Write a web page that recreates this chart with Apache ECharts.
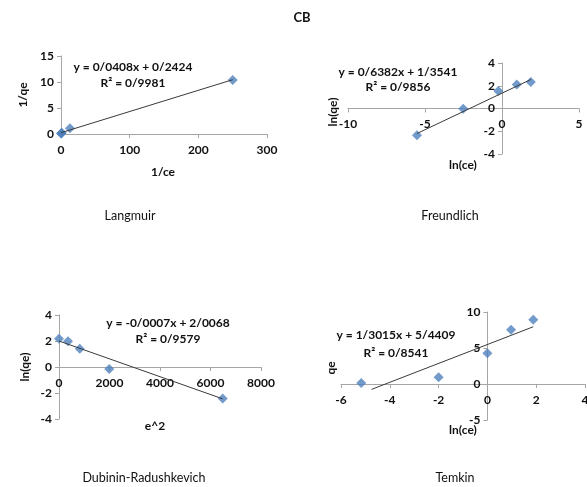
<!DOCTYPE html>
<html>
<head>
<meta charset="utf-8">
<script src="https://cdn.jsdelivr.net/npm/echarts@6/dist/echarts.min.js"></script>
<style>
body{ margin:0; background:#fff; }
#chart{ width:587px; height:487px; }
</style>
</head>
<body>
<div id="chart"></div>
<script type="text/javascript">
// Langmuir: 1/ce vs 1/qe
var langX = [0.16, 0.38, 1.22, 13, 250];
var langY = [0.10, 0.12, 0.22, 1.1, 10.4];
var langTrend = [[0.16, 0.25], [250, 10.44]];

// Freundlich: ln(ce) vs ln(qe)
var freuX = [-5.52, -2.52, -0.24, 0.96, 1.87];
var freuY = [-2.36, -0.03, 1.53, 2.12, 2.33];
var freuTrend = [[-5.52, -2.2], [1.87, 2.55]];

// Dubinin-Radushkevich: e^2 vs ln(qe)
var drX = [0, 357, 821, 1990, 6484];
var drY = [2.18, 1.98, 1.41, -0.16, -2.43];
var drTrend = [[0, 2.0], [6484, -2.45]];

// Temkin: ln(ce) vs qe
var temX = [-5.17, -2.0, 0, 0.97, 1.88];
var temY = [0.14, 0.93, 4.26, 7.54, 8.93];
var temTrend = [[-4.75, -0.75], [1.88, 7.95]];

// axis ranges [min, max, step]
var xRanges = [[0, 300, 100], [-10, 5, 5], [0, 8000, 2000], [-6, 4, 2]];
var yRanges = [[0, 15, 5], [-4, 4, 2], [-4, 4, 2], [-5, 10, 5]];

var grids = [
  { left: 61, top: 56, width: 206, height: 78 },
  { left: 348, top: 63, width: 231, height: 91 },
  { left: 59, top: 315, width: 202, height: 104 },
  { left: 341, top: 312, width: 244, height: 108 }
];

function pairs(xs, ys){
  var out = [];
  for (var i = 0; i < xs.length; i++) out.push([xs[i], ys[i]]);
  return out;
}

var font = 'Lato, "Open Sans", sans-serif';
var axisColor = '#A6A6A6';

// axes cross at zero like Excel: shift the axis inward by offset
function zeroShift(r, size){
  if (r[0] >= 0) return 0;
  return -(0 - r[0]) / (r[1] - r[0]) * size;
}

function xAx(idx){
  var r = xRanges[idx];
  return {
    type: 'value', gridIndex: idx, min: r[0], max: r[1], interval: r[2],
    position: 'bottom', offset: zeroShift(yRanges[idx], grids[idx].height),
    axisLine: { onZero: false, lineStyle: { color: axisColor } },
    axisTick: { length: 4, lineStyle: { color: axisColor } },
    splitLine: { show: false },
    axisLabel: { margin: 10, color: '#111', fontWeight: 'bold', fontSize: 12, fontFamily: font,
                 formatter: function(v){ return String(v); } }
  };
}
function yAx(idx){
  var r = yRanges[idx];
  return {
    type: 'value', gridIndex: idx, min: r[0], max: r[1], interval: r[2],
    position: 'left', offset: zeroShift(xRanges[idx], grids[idx].width),
    axisLine: { show: true, onZero: false, lineStyle: { color: axisColor } },
    axisTick: { show: true, length: 4, lineStyle: { color: axisColor } },
    splitLine: { show: false },
    axisLabel: { margin: 7, color: '#111', fontWeight: 'bold', fontSize: 12, fontFamily: font }
  };
}
function pts(idx, xs, ys){
  return {
    type: 'scatter', xAxisIndex: idx, yAxisIndex: idx,
    data: pairs(xs, ys), symbol: 'diamond', symbolSize: 10,
    itemStyle: { color: '#4F81BD' }, z: 2
  };
}
function trend(idx, d){
  return {
    type: 'line', xAxisIndex: idx, yAxisIndex: idx, data: d,
    symbol: 'none', lineStyle: { color: '#3a3a3a', width: 1 }, z: 3, silent: true
  };
}
function txt(s, x, y, opts){
  opts = opts || {};
  return {
    type: 'text', x: x, y: y, rotation: opts.rot || 0,
    style: {
      text: s, x: 0, y: 0, align: 'center', verticalAlign: 'middle',
      fill: '#111',
      font: (opts.bold === false ? '' : 'bold ') + (opts.size || 12) + 'px ' + font
    }
  };
}

var chart = echarts.init(document.getElementById('chart'));
chart.setOption({
  animation: false,
  grid: grids.map(function(g){
    return { left: g.left, top: g.top, width: g.width, height: g.height,
             containLabel: false, outerBoundsMode: 'none' };
  }),
  xAxis: [xAx(0), xAx(1), xAx(2), xAx(3)],
  yAxis: [yAx(0), yAx(1), yAx(2), yAx(3)],
  series: [
    pts(0, langX, langY), trend(0, langTrend),
    pts(1, freuX, freuY), trend(1, freuTrend),
    pts(2, drX, drY), trend(2, drTrend),
    pts(3, temX, temY), trend(3, temTrend)
  ],
  graphic: [
    txt('CB', 302, 18, { size: 13 }),

    txt('y = 0/0408x + 0/2424', 133, 67),
    txt('R² = 0/9981', 133, 83),
    txt('1/qe', 23, 95, { rot: Math.PI / 2 }),
    txt('1/ce', 163, 172),
    txt('Langmuir', 130, 216, { bold: false, size: 12.5 }),

    txt('y = 0/6382x + 1/3541', 398, 72),
    txt('R² = 0/9856', 398, 87),
    txt('ln(qe)', 333, 112, { rot: Math.PI / 2 }),
    txt('ln(ce)', 463, 165),
    txt('Freundlich', 450, 216, { bold: false, size: 12.5 }),

    txt('y = -0/0007x + 2/0068', 168, 323),
    txt('R² = 0/9579', 168, 339),
    txt('ln(qe)', 25, 367, { rot: Math.PI / 2 }),
    txt('e^2', 155, 426),
    txt('Dubinin-Radushkevich', 144, 478, { bold: false, size: 12.5 }),

    txt('y = 1/3015x + 5/4409', 396, 335),
    txt('R² = 0/8541', 396, 353),
    txt('qe', 331, 368, { rot: Math.PI / 2 }),
    txt('ln(ce)', 463, 430),
    txt('Temkin', 455, 478, { bold: false, size: 12.5 })
  ]
});
</script>
</body>
</html>
